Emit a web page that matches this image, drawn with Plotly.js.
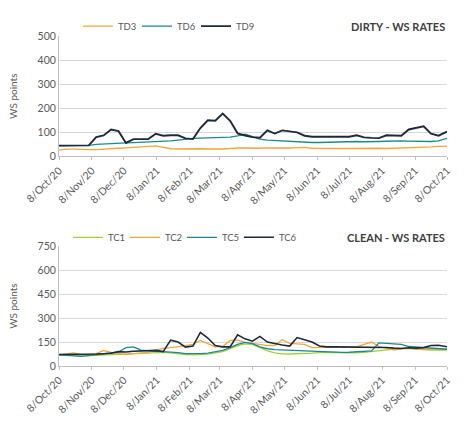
<html>
<head>
<meta charset="utf-8" />
<title>WS rates</title>
<script src="https://cdn.plot.ly/plotly-3.0.1.min.js"></script>
<style>body{margin:0;background:#fff;}</style>
</head>
<body>
<div id="myDiv" style="width:464px;height:423px;"></div>
<script>
// weekly fixings, 8 Oct 2020 - 8 Oct 2021
const dates = ['2020-10-08','2020-10-15','2020-10-22','2020-10-29','2020-11-05','2020-11-12','2020-11-19','2020-11-26',
  '2020-12-03','2020-12-10','2020-12-17','2020-12-24','2020-12-31','2021-01-07','2021-01-14','2021-01-21','2021-01-28',
  '2021-02-04','2021-02-11','2021-02-18','2021-02-25','2021-03-04','2021-03-11','2021-03-18','2021-03-25','2021-04-01',
  '2021-04-08','2021-04-15','2021-04-22','2021-04-29','2021-05-06','2021-05-13','2021-05-20','2021-05-27','2021-06-03',
  '2021-06-10','2021-06-17','2021-06-24','2021-07-01','2021-07-08','2021-07-15','2021-07-22','2021-07-29','2021-08-05',
  '2021-08-12','2021-08-19','2021-08-26','2021-09-02','2021-09-09','2021-09-16','2021-09-23','2021-09-30','2021-10-08'];

// dirty
const td3 = [26,30,30,28,28,28,29,30,34,36,37,38,42,44,38,32,31,32,33,32,31,30,31,33,36,35,33,34,36,35,34,35,37,38,34,33,33,34,33,33,34,33,33,34,33,34,33,34,35,36,40,42,43];
const td6 = [45,45,45,46,46,50,52,53,55,56,57,58,60,62,62,65,68,72,75,76,77,78,78,80,85,92,82,72,68,66,64,62,60,59,58,58,59,60,62,62,62,61,60,62,63,65,65,64,63,62,62,65,75];
const td9 = [45,45,45,46,46,80,87,112,105,56,72,72,72,94,86,88,88,75,72,118,150,148,178,148,96,87,80,78,108,95,108,104,100,86,82,82,82,82,82,82,88,79,77,76,88,87,86,112,120,125,95,86,103];

// clean
const tc1 = [70,68,65,65,65,66,68,70,70,72,75,78,80,82,85,82,76,72,70,70,74,82,90,108,128,138,135,115,95,82,76,75,76,78,80,84,86,85,82,80,82,85,90,96,102,106,110,110,105,102,100,100,100];
const tc2 = [70,75,82,70,75,78,98,85,78,72,78,82,85,100,110,115,120,128,135,160,140,120,122,160,162,148,142,135,128,130,165,142,140,135,115,115,115,115,118,120,120,135,150,122,110,100,108,110,106,105,104,105,105];
const tc5 = [70,66,62,60,65,70,75,80,88,115,120,100,95,92,90,88,84,78,77,78,80,88,98,115,135,148,140,120,108,102,100,100,98,92,90,88,86,85,85,86,88,90,95,145,142,140,135,122,118,115,112,108,105];
const tc6 = [72,72,72,72,73,75,77,80,90,88,92,95,96,98,90,162,150,118,125,210,175,128,120,120,195,170,155,185,150,140,132,125,178,165,150,125,120,120,120,120,120,120,118,118,116,112,110,114,112,115,128,130,120];

const tickDates = ['2020-10-08','2020-11-08','2020-12-08','2021-01-08','2021-02-08','2021-03-08','2021-04-08',
  '2021-05-08','2021-06-08','2021-07-08','2021-08-08','2021-09-08','2021-10-08'];
const tickLabels = ['8/Oct/20','8/Nov/20','8/Dec/20','8/Jan/21','8/Feb/21','8/Mar/21','8/Apr/21',
  '8/May/21','8/Jun/21','8/Jul/21','8/Aug/21','8/Sep/21','8/Oct/21'];

const orange = '#f0a73a', teal = '#1b8a8c', navy = '#1c2a3c', green = '#a3cf3c';

function line(name, y, color, width, xa, ya, leg) {
  return { x: dates, y: y, name: name, type: 'scatter', mode: 'lines',
    line: { color: color, width: width }, xaxis: xa, yaxis: ya, legend: leg };
}

var data = [
  line('TD3', td3, orange, 1.3, 'x', 'y', 'legend'),
  line('TD6', td6, teal, 1.3, 'x', 'y', 'legend'),
  line('TD9', td9, navy, 1.9, 'x', 'y', 'legend'),
  line('TC1', tc1, green, 1.3, 'x2', 'y2', 'legend2'),
  line('TC2', tc2, orange, 1.3, 'x2', 'y2', 'legend2'),
  line('TC5', tc5, teal, 1.3, 'x2', 'y2', 'legend2'),
  line('TC6', tc6, navy, 1.6, 'x2', 'y2', 'legend2')
];

var xax = {
  type: 'date', range: ['2020-10-08', '2021-10-08'],
  tickmode: 'array', tickvals: tickDates, ticktext: tickLabels, tickangle: -45,
  ticks: 'outside', ticklen: 3, tickcolor: '#bfbfbf',
  showline: true, linecolor: '#bfbfbf', linewidth: 1, showgrid: false,
  tickfont: { size: 10.5, color: '#595959' }
};
var yax = {
  showgrid: true, gridcolor: '#d9d9d9', zeroline: false,
  showline: true, linecolor: '#bfbfbf', ticks: '',
  tickfont: { size: 10.5, color: '#595959' },
  title: { text: 'WS points', font: { size: 10, color: '#595959' }, standoff: 18 }
};

var layout = {
  width: 464, height: 423,
  margin: { l: 59, r: 17, t: 30, b: 57 },
  paper_bgcolor: '#fff', plot_bgcolor: '#fff',
  font: { family: 'Lato, "Open Sans", sans-serif', color: '#595959' },
  xaxis: Object.assign({}, xax, { anchor: 'y', domain: [0, 1] }),
  xaxis2: Object.assign({}, xax, { anchor: 'y2', domain: [0, 1] }),
  yaxis: Object.assign({}, yax, { domain: [0.635, 1], range: [0, 500], tickvals: [0, 100, 200, 300, 400, 500], anchor: 'x' }),
  yaxis2: Object.assign({}, yax, { domain: [0, 0.363], range: [0, 750], tickvals: [0, 150, 300, 450, 600, 750], anchor: 'x2' }),
  legend: {
    orientation: 'h', x: 0.049, y: 1.03, xanchor: 'left', yanchor: 'middle',
    bgcolor: 'rgba(255,255,255,0)', font: { size: 9.5, color: '#595959' },
    entrywidth: 14, entrywidthmode: 'pixels', itemwidth: 30
  },
  legend2: {
    orientation: 'h', x: 0.023, y: 0.39, xanchor: 'left', yanchor: 'middle',
    bgcolor: '#fff', font: { size: 9.5, color: '#595959' },
    entrywidth: 12, entrywidthmode: 'pixels', itemwidth: 30
  },
  annotations: [
    { text: '<b>DIRTY - WS RATES</b>', xref: 'paper', yref: 'paper', x: 1, y: 1.03,
      xanchor: 'right', yanchor: 'middle', showarrow: false, font: { size: 11, color: '#404040' } },
    { text: '<b>CLEAN - WS RATES</b>', xref: 'paper', yref: 'paper', x: 1, y: 0.39,
      xanchor: 'right', yanchor: 'middle', showarrow: false, font: { size: 11, color: '#404040' } }
  ],
  showlegend: true
};

Plotly.newPlot('myDiv', data, layout, { displayModeBar: false, staticPlot: true });
</script>
</body>
</html>
